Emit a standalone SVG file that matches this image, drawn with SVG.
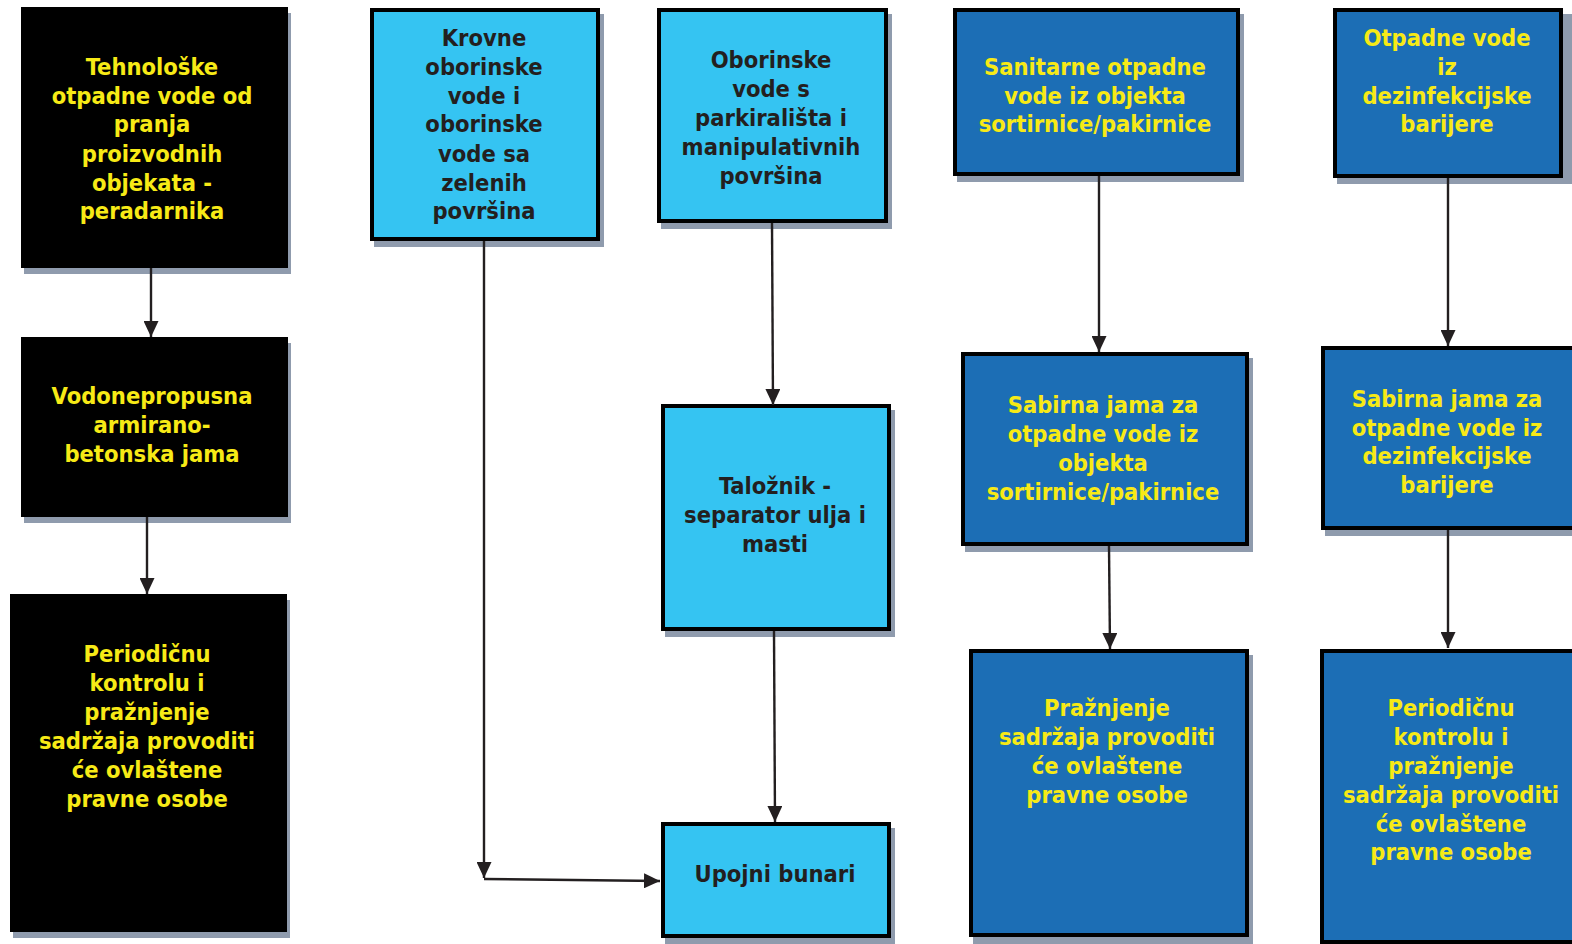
<svg xmlns="http://www.w3.org/2000/svg" width="1572" height="944" viewBox="0 0 1572 944">
<style>
.shadow{fill:#8f9bad}
.blk{fill:#000000}
.lb{fill:#35c4f2;stroke:#000000;stroke-width:4}
.db{fill:#1c6eb5;stroke:#000000;stroke-width:4}
text{font-family:"DejaVu Sans Condensed","DejaVu Sans",sans-serif;font-stretch:condensed;font-weight:bold;font-size:23.5px;text-anchor:middle}
.y{fill:#f7ea16}
.d{fill:#231f20}
.conn{stroke:#231f20;stroke-width:2.4;fill:none;marker-end:url(#ah)}
</style>
<defs>
<marker id="ah" markerWidth="16" markerHeight="15" refX="16" refY="7.5" orient="auto" markerUnits="userSpaceOnUse" viewBox="0 0 16 15">
<path d="M0,0 L16,7.5 L0,15 Z" fill="#231f20"/>
</marker>
</defs>
<rect width="1572" height="944" fill="#ffffff"/>

<g id="n1">
<rect class="shadow" x="24" y="13" width="267" height="261"/>
<rect class="blk" x="21" y="7" width="267" height="261"/>
<text class="y"><tspan x="152" y="75">Tehnološke</tspan><tspan x="152" y="104">otpadne vode od</tspan><tspan x="152" y="132">pranja</tspan><tspan x="152" y="162">proizvodnih</tspan><tspan x="152" y="191">objekata -</tspan><tspan x="152" y="219">peradarnika</tspan></text>
</g>

<g id="n2">
<rect class="shadow" x="24" y="343" width="267" height="180"/>
<rect class="blk" x="21" y="337" width="267" height="180"/>
<text class="y"><tspan x="152" y="404">Vodonepropusna</tspan><tspan x="152" y="433">armirano-</tspan><tspan x="152" y="462">betonska jama</tspan></text>
</g>

<g id="n3">
<rect class="shadow" x="13" y="600" width="277" height="338"/>
<rect class="blk" x="10" y="594" width="277" height="338"/>
<text class="y"><tspan x="147" y="662">Periodičnu</tspan><tspan x="147" y="691">kontrolu i</tspan><tspan x="147" y="720">pražnjenje</tspan><tspan x="147" y="749">sadržaja provoditi</tspan><tspan x="147" y="778">će ovlaštene</tspan><tspan x="147" y="807">pravne osobe</tspan></text>
</g>

<g id="n4">
<rect class="shadow" x="374" y="14" width="230" height="233"/>
<rect class="lb" x="372" y="10" width="226" height="229"/>
<text class="d"><tspan x="484" y="46">Krovne</tspan><tspan x="484" y="75">oborinske</tspan><tspan x="484" y="104">vode i</tspan><tspan x="484" y="132">oborinske</tspan><tspan x="484" y="162">vode sa</tspan><tspan x="484" y="191">zelenih</tspan><tspan x="484" y="219">površina</tspan></text>
</g>

<g id="n5">
<rect class="shadow" x="661" y="14" width="231" height="215"/>
<rect class="lb" x="659" y="10" width="227" height="211"/>
<text class="d"><tspan x="771" y="68">Oborinske</tspan><tspan x="771" y="97">vode s</tspan><tspan x="771" y="126">parkirališta i</tspan><tspan x="771" y="155">manipulativnih</tspan><tspan x="771" y="184">površina</tspan></text>
</g>

<g id="n6">
<rect class="shadow" x="665" y="410" width="230" height="227"/>
<rect class="lb" x="663" y="406" width="226" height="223"/>
<text class="d"><tspan x="775" y="494">Taložnik -</tspan><tspan x="775" y="523">separator ulja i</tspan><tspan x="775" y="552">masti</tspan></text>
</g>

<g id="n7">
<rect class="shadow" x="665" y="828" width="230" height="116"/>
<rect class="lb" x="663" y="824" width="226" height="112"/>
<text class="d"><tspan x="775" y="882">Upojni bunari</tspan></text>
</g>

<g id="n8">
<rect class="shadow" x="957" y="14" width="287" height="168"/>
<rect class="db" x="955" y="10" width="283" height="164"/>
<text class="y"><tspan x="1095" y="75">Sanitarne otpadne</tspan><tspan x="1095" y="104">vode iz objekta</tspan><tspan x="1095" y="132">sortirnice/pakirnice</tspan></text>
</g>

<g id="n9">
<rect class="shadow" x="1337" y="14" width="240" height="170"/>
<rect class="db" x="1335" y="10" width="226" height="166"/>
<text class="y"><tspan x="1447" y="46">Otpadne vode</tspan><tspan x="1447" y="75">iz</tspan><tspan x="1447" y="104">dezinfekcijske</tspan><tspan x="1447" y="132">barijere</tspan></text>
</g>

<g id="n10">
<rect class="shadow" x="965" y="358" width="288" height="194"/>
<rect class="db" x="963" y="354" width="284" height="190"/>
<text class="y"><tspan x="1103" y="413">Sabirna jama za</tspan><tspan x="1103" y="442">otpadne vode iz</tspan><tspan x="1103" y="471">objekta</tspan><tspan x="1103" y="500">sortirnice/pakirnice</tspan></text>
</g>

<g id="n11">
<rect class="shadow" x="1325" y="352" width="260" height="184"/>
<rect class="db" x="1323" y="348" width="260" height="180"/>
<text class="y"><tspan x="1447" y="407">Sabirna jama za</tspan><tspan x="1447" y="436">otpadne vode iz</tspan><tspan x="1447" y="464">dezinfekcijske</tspan><tspan x="1447" y="493">barijere</tspan></text>
</g>

<g id="n12">
<rect class="shadow" x="973" y="655" width="280" height="290"/>
<rect class="db" x="971" y="651" width="276" height="284"/>
<text class="y"><tspan x="1107" y="716">Pražnjenje</tspan><tspan x="1107" y="745">sadržaja provoditi</tspan><tspan x="1107" y="774">će ovlaštene</tspan><tspan x="1107" y="803">pravne osobe</tspan></text>
</g>

<g id="n13">
<rect class="db" x="1322" y="651" width="260" height="291"/>
<text class="y"><tspan x="1451" y="716">Periodičnu</tspan><tspan x="1451" y="745">kontrolu i</tspan><tspan x="1451" y="774">pražnjenje</tspan><tspan x="1451" y="803">sadržaja provoditi</tspan><tspan x="1451" y="832">će ovlaštene</tspan><tspan x="1451" y="860">pravne osobe</tspan></text>
</g>

<g id="connectors">
<path class="conn" d="M151,268 L151,337"/>
<path class="conn" d="M147,517 L147,594"/>
<path class="conn" d="M484,241 L484,878"/>
<path class="conn" d="M484,879 L660,881"/>
<path class="conn" d="M772,223 L773,405"/>
<path class="conn" d="M774,631 L775,822"/>
<path class="conn" d="M1099,176 L1099,352"/>
<path class="conn" d="M1109,546 L1110,649"/>
<path class="conn" d="M1448,178 L1448,346"/>
<path class="conn" d="M1448,530 L1448,648"/>
</g>
</svg>
